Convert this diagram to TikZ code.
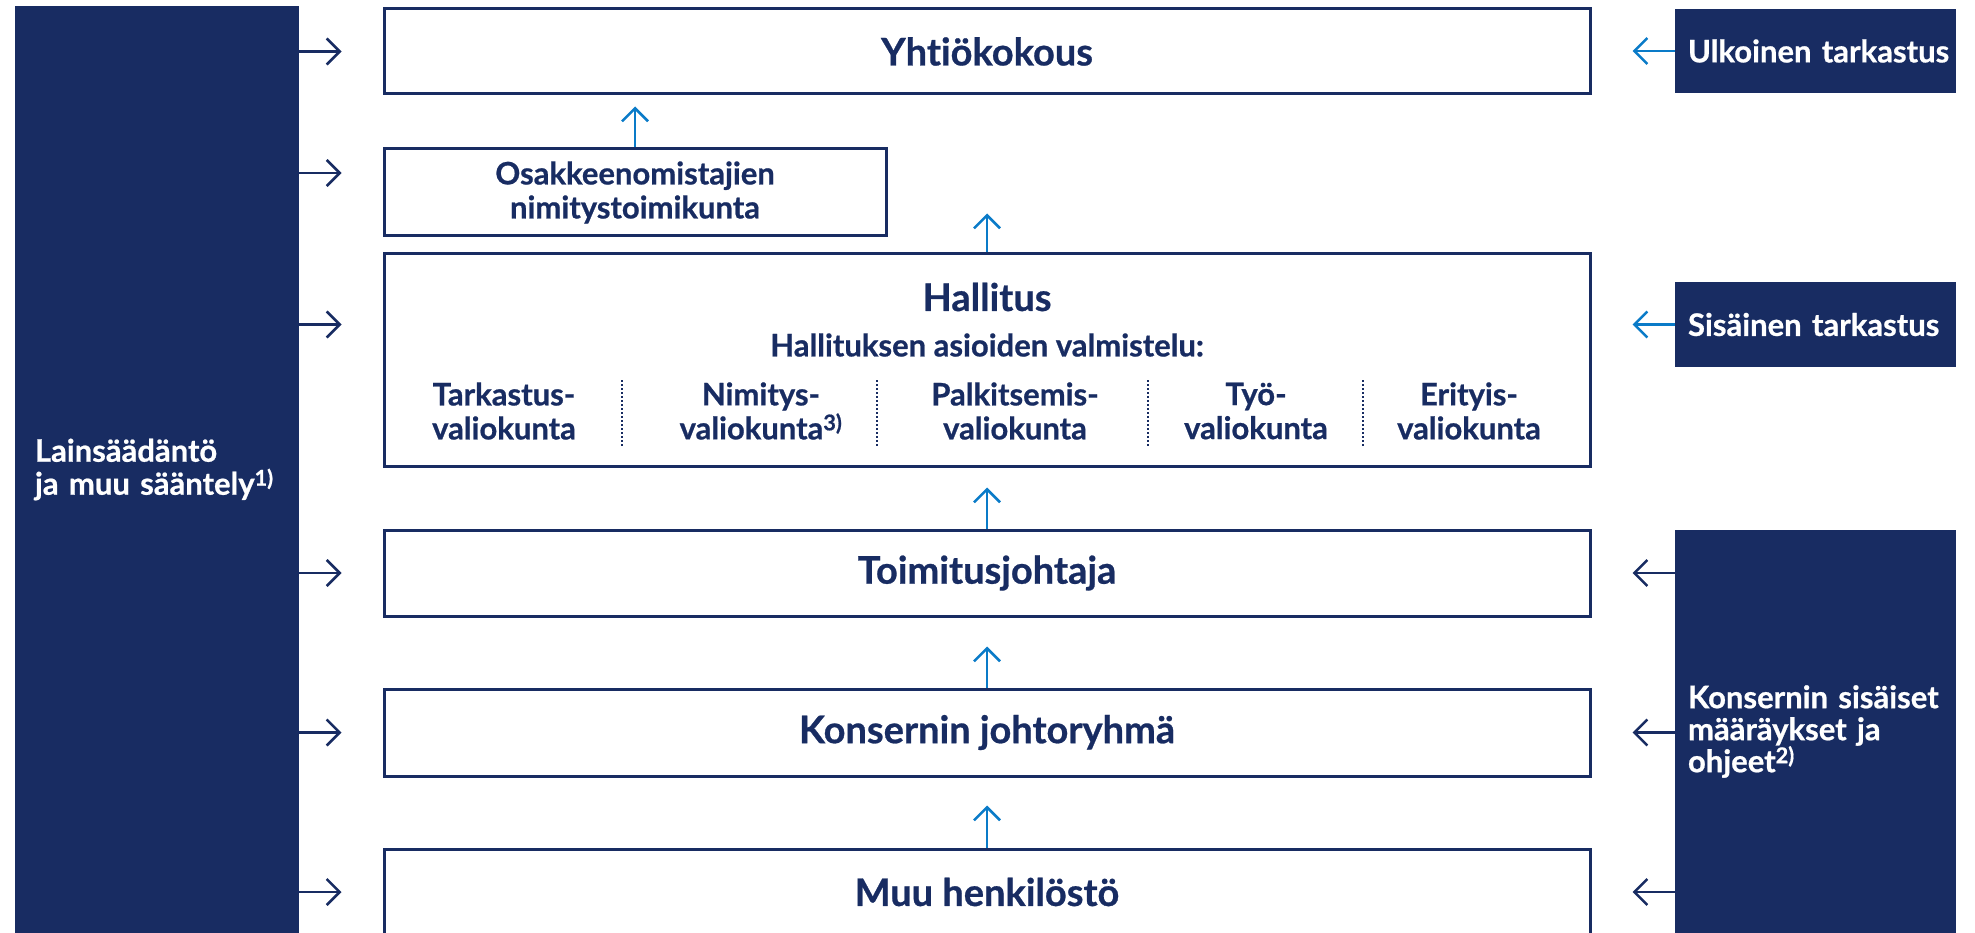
\documentclass[tikz,border=0pt]{standalone}
\usepackage{fontspec}
\setmainfont{Lato}[Ligatures=NoCommon, BoldFeatures={FakeBold=0.7}]
\usetikzlibrary{arrows.meta,positioning}
\definecolor{navy}{HTML}{182C62}
\definecolor{lblue}{HTML}{0A7BC8}
\hyphenpenalty=10000
\begin{document}
\begin{tikzpicture}[x=1pt, y=-1pt,
    >={Straight Barb[length=13pt,width=26pt]},
    box/.style = {draw=navy, line width=3pt, inner sep=0pt, text=navy, align=center,
      font=\bfseries\fontsize{38}{44}\selectfont},
    small/.style = {box, font=\bfseries\fontsize{31}{34}\selectfont},
    dark/.style = {fill=navy, inner sep=0pt, inner xsep=13pt, text=white, align=left,
      font=\bfseries\fontsize{31}{32}\selectfont},
    com/.style = {text=navy, align=center, inner sep=0pt, font=\bfseries\fontsize{31}{34}\selectfont},
    sep/.style = {navy, dotted, line width=2pt},
    side/.style = {->, navy, line width=2.5pt, shorten >=41pt},
    ext/.style = {side, lblue},
    up/.style = {->, lblue, line width=2.5pt}]
    \useasboundingbox (0,0) rectangle (1975,933);
    % middle column
    \node[box, minimum width=1206pt, minimum height=85pt] (yk) at (987,51.5) {Yhtiökokous};
    \node[small, minimum width=502pt, minimum height=87pt] (ok) at (635,192.5) {Osakkeenomistajien\\nimitystoimikunta};
    \node[box, minimum width=1206pt, minimum height=212pt] (ha) at (987,360) {};
    \node[box, minimum width=1206pt, minimum height=86pt] (tj) at (987,573) {Toimitusjohtaja};
    \node[box, minimum width=1206pt, minimum height=87pt] (kj) at (987,732.5) {Konsernin johtoryhmä};
    \node[box, minimum width=1206pt, minimum height=86pt] (mh) at (987,892) {Muu henkilöstö};
    % inside the board
    \node[com, font=\bfseries\fontsize{38}{44}\selectfont] (hat) at (987,297) {Hallitus};
    \node[com] (hav) at (987,345) {Hallituksen asioiden valmistelu:};
    \node[com] (c1) at (504,411) {Tarkastus-\\valiokunta};
    \node[com] (c2) at (761,411) {Nimitys-\\valiokunta\textsuperscript{3)}};
    \node[com] (c3) at (1015,411) {Palkitsemis-\\valiokunta};
    \node[com] (c4) at (1256,411) {Työ-\\valiokunta};
    \node[com] (c5) at (1469,411) {Erityis-\\valiokunta};
    \foreach \x in {622,877,1148,1363}
      \draw[sep] (\x,380) -- (\x,446);
    % side boxes
    \node[dark, inner xsep=20pt, minimum height=927pt, text width=244pt,
      font=\bfseries\fontsize{31}{33}\selectfont] (lb) at (157,469.5) {Lainsäädäntö\\ja muu sääntely\textsuperscript{1)}};
    \node[dark, minimum height=84pt, text width=255pt] (ut) at (1815.5,51) {\mbox{Ulkoinen tarkastus}};
    \node[dark, minimum height=85pt, text width=255pt] (st) at (1815.5,324.5) {Sisäinen tarkastus};
    \node[dark, minimum height=403pt, text width=255pt] (kb) at (1815.5,731.5) {Konsernin sisäiset\\määräykset ja\\ohjeet\textsuperscript{2)}};
    \coordinate (a2) at (0,173);
    %
    \draw[side] (lb.east |- yk) -- (yk.west);
    \draw[side] (lb.east |- a2) -- (ok.west |- a2);
    \draw[side] (lb.east |- st) -- (ha.west |- st);
    \draw[side] (lb.east |- tj) -- (tj.west);
    \draw[side] (lb.east |- kj) -- (kj.west);
    \draw[side] (lb.east |- mh) -- (mh.west);
    \draw[ext] (ut.west) -- (yk.east |- ut);
    \draw[ext] (st.west) -- (ha.east |- st);
    \draw[side] (kb.west |- tj) -- (tj.east);
    \draw[side] (kb.west |- kj) -- (kj.east);
    \draw[side] (kb.west |- mh) -- (mh.east);
    \draw[up, shorten >=11pt] (ok.north) -- (ok.north |- yk.south);
    \draw[up, shorten >=118pt] (ha.north) -- (yk.south);
    \draw[up, shorten >=20pt] (tj.north) -- (ha.south);
    \draw[up, shorten >=29pt] (kj.north) -- (tj.south);
    \draw[up, shorten >=28pt] (mh.north) -- (kj.south);
\end{tikzpicture}
\end{document}
